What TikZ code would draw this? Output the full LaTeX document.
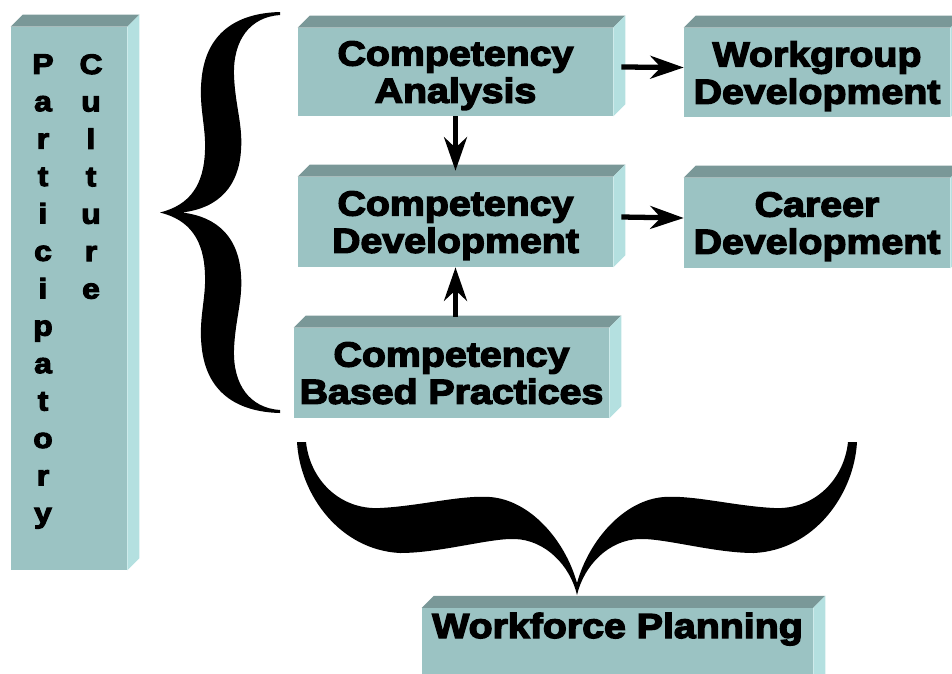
\documentclass[tikz,border=0pt]{standalone}
\usepackage{fontspec}
\setmainfont{Liberation Sans}
\newfontfamily\blockfont{Liberation Sans}[FakeStretch=1.13,BoldFeatures={FakeBold=4}]
\usetikzlibrary{arrows.meta}
\definecolor{cubefront}{RGB}{155,195,195}
\definecolor{cubetop}{RGB}{122,152,152}
\definecolor{cubeside}{RGB}{180,224,224}

\begin{document}
\begin{tikzpicture}[
            x=0.02cm, y=-0.02cm,
            every node/.append style={black},
            cube/.style={fill=cubefront, inner sep=0pt, align=center, text depth=0pt,
                font=\blockfont\bfseries\fontsize{19.8}{21.2}\selectfont},
            column/.style={inner sep=0pt, align=center, anchor=north,
                font=\blockfont\bfseries\fontsize{16}{21.3}\selectfont},
            link/.style={line width=3pt, -{Stealth[length=19pt,width=13pt,inset=6pt]}}
        ]
            \useasboundingbox (0,0) rectangle (952,673);
            \node [cube, minimum width=2.32cm, minimum height=10.86cm] (pc) at (69,298.5) {};
            \node [column] (part) at (43,54) {P\\a\\r\\t\\i\\c\\i\\p\\a\\t\\o\\r\\y};
            \node [column] (cult) at (91,54) {C\\u\\l\\t\\u\\r\\e};
            \node [cube, minimum width=6.3cm, minimum height=1.76cm] (ca) at (455.5,72) {Competency\\Analysis};
            \node [cube, minimum width=5.32cm, minimum height=1.78cm] (wd) at (817,72.5) {Workgroup\\Development};
            \node [cube, minimum width=6.3cm, minimum height=1.8cm] (cd) at (455.5,222) {Competency\\Development};
            \node [cube, minimum width=5.32cm, minimum height=1.8cm] (cr) at (817,223) {Career\\Development};
            \node [cube, minimum width=6.3cm, minimum height=1.8cm] (cbp) at (451.5,373) {Competency\\Based Practices};
            \node [cube, minimum width=7.82cm, text height=17pt, text depth=29.5pt] (wp) at (617.5,649) {Workforce Planning};
            \foreach \n in {pc,ca,wd,cd,cr,cbp,wp} {
                \fill [cubetop] (\n.north west) -- ++(12,-12) -- ([shift={(12,-12)}]\n.north east) -- (\n.north east) -- cycle;
                \fill [cubeside] (\n.north east) -- ++(12,-12) -- ([shift={(12,-12)}]\n.south east) -- (\n.south east) -- cycle;
            }
            \draw [link] ([shift={(8,-5)}]ca.east) -- ([shift={(0,-5)}]wd.west);
            \draw [link] ([shift={(8,-5)}]cd.east) -- ([shift={(0,-5)}]cr.west);
            \draw [link] (ca.south) -- ([shift={(0,-6)}]cd.north);
            \coordinate (cbptop) at ([shift={(0,-11)}]cbp.north);
            \draw [link] (cd.south |- cbptop) -- (cd.south);
            \fill [black] (280,12)
                .. controls (240,13) and (208,30) .. (202,75)
                .. controls (198,105) and (206,125) .. (205,150)
                .. controls (204,185) and (190,205) .. (160,212.5)
                .. controls (190,220) and (204,240) .. (205,275)
                .. controls (206,300) and (198,320) .. (202,350)
                .. controls (208,395) and (240,412) .. (280,413)
                -- (280,410)
                .. controls (250,408) and (233,385) .. (234,350)
                .. controls (235,320) and (243,300) .. (241,275)
                .. controls (239,240) and (220,217) .. (182,212.5)
                .. controls (220,208) and (239,185) .. (241,150)
                .. controls (243,125) and (235,105) .. (234,75)
                .. controls (233,40) and (250,17) .. (280,15)
                -- cycle;
            \fill [black] (297,442)
                .. controls (300,495) and (340,550) .. (400,553)
                .. controls (440,553) and (490,538) .. (515,539)
                .. controls (545,540) and (570,565) .. (577,595)
                .. controls (584,565) and (609,540) .. (639,539)
                .. controls (664,538) and (714,553) .. (754,553)
                .. controls (814,550) and (854,495) .. (857,442)
                -- (848,442)
                .. controls (844,480) and (814,510) .. (774,508)
                .. controls (734,506) and (694,495) .. (664,497)
                .. controls (624,500) and (589,540) .. (577,583)
                .. controls (565,540) and (530,500) .. (490,497)
                .. controls (460,495) and (420,506) .. (380,508)
                .. controls (340,510) and (310,480) .. (306,442)
                -- cycle;
        \end{tikzpicture}
\end{document}
